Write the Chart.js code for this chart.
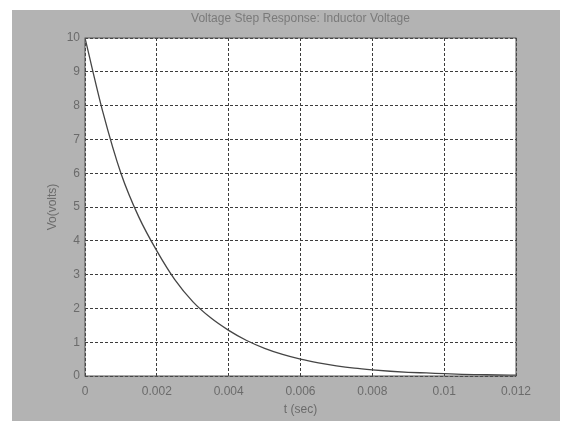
<!DOCTYPE html>
<html>
<head>
<meta charset="utf-8">
<script src="https://cdn.jsdelivr.net/npm/chart.js@4/dist/chart.umd.min.js"></script>
<style>
  html, body { margin: 0; padding: 0; background: #fff; }
  canvas { display: block; }
</style>
</head>
<body>
<canvas id="c" width="569" height="430"></canvas>
<script>
// time (sec) and inductor voltage (volts)
const times = [0, 0.0005, 0.001, 0.0015, 0.002, 0.0025, 0.003, 0.0035, 0.004, 0.0045, 0.005, 0.0055,
  0.006, 0.0065, 0.007, 0.0075, 0.008, 0.0085, 0.009, 0.0095, 0.01, 0.0105, 0.011, 0.0115, 0.012];
const voltage = [10, 7.8, 6.0, 4.7, 3.7, 2.85, 2.2, 1.72, 1.35, 1.05, 0.82, 0.64,
  0.5, 0.39, 0.3, 0.23, 0.18, 0.14, 0.11, 0.09, 0.07, 0.05, 0.04, 0.03, 0.025];
const xTickLabels = ["0", "0.002", "0.004", "0.006", "0.008", "0.01", "0.012"];
const yTickLabels = ["0", "1", "2", "3", "4", "5", "6", "7", "8", "9", "10"];
const chartTitle = "Voltage Step Response: Inductor Voltage";

const textColor = "#6b6b6b";
const font = { family: "Liberation Sans, Arial, sans-serif", size: 12 };

const panel = {
  id: "panel",
  beforeDraw(chart) {
    const ctx = chart.ctx, a = chart.chartArea;
    ctx.save();
    ctx.fillStyle = "#b3b3b3";
    ctx.fillRect(12, 10, 548, 411);
    ctx.fillStyle = "#ffffff";
    ctx.fillRect(a.left, a.top, a.right - a.left, a.bottom - a.top);
    ctx.restore();
  },
  afterDatasetsDraw(chart) {
    const ctx = chart.ctx, a = chart.chartArea;
    ctx.save();
    ctx.strokeStyle = "#555";
    ctx.lineWidth = 1;
    ctx.strokeRect(a.left, a.top, a.right - a.left, a.bottom - a.top);
    // title, centred over the plot box like matlab does
    ctx.fillStyle = "#7a7a7a";
    ctx.font = "12px Liberation Sans, Arial, sans-serif";
    ctx.textAlign = "center";
    ctx.textBaseline = "middle";
    ctx.fillText(chartTitle, (a.left + a.right) / 2, 19);
    ctx.restore();
  }
};

const grid = {
  color: "#3c3c3c",
  lineWidth: 1,
  drawTicks: false
};
const border = { display: false, dash: [3, 2] };

new Chart(document.getElementById("c"), {
  type: "line",
  data: {
    datasets: [{
      data: times.map((t, i) => ({ x: t, y: voltage[i] })),
      borderColor: "#454545",
      borderWidth: 1.3,
      pointRadius: 0,
      cubicInterpolationMode: "monotone",
      fill: false
    }]
  },
  options: {
    responsive: false,
    animation: false,
    layout: { padding: { left: 0, right: 53, top: 38, bottom: 0 } },
    plugins: {
      legend: { display: false },
      tooltip: { enabled: false },
      title: { display: false }
    },
    scales: {
      x: {
        type: "linear",
        min: 0,
        max: 0.012,
        afterFit(s) { s.height = 54; },
        afterBuildTicks(s) { s.ticks = xTickLabels.map((_, i) => ({ value: i * 0.002 })); },
        ticks: {
          color: textColor,
          font: font,
          padding: 8,
          maxRotation: 0,
          callback: (v, i) => xTickLabels[i]
        },
        grid: grid,
        border: border,
        title: { display: true, text: "t (sec)", color: textColor, font: font, padding: { top: 0, bottom: 13 } }
      },
      y: {
        min: 0,
        max: 10,
        afterFit(s) { s.width = 85; },
        afterBuildTicks(s) { s.ticks = yTickLabels.map((_, i) => ({ value: i })); },
        ticks: {
          color: textColor,
          font: font,
          padding: 5,
          callback: (v, i) => yTickLabels[i]
        },
        grid: grid,
        border: border,
        title: { display: true, text: "Vo(volts)", color: textColor, font: font, padding: { top: 45, bottom: 0 } }
      }
    }
  },
  plugins: [panel]
});
</script>
</body>
</html>
